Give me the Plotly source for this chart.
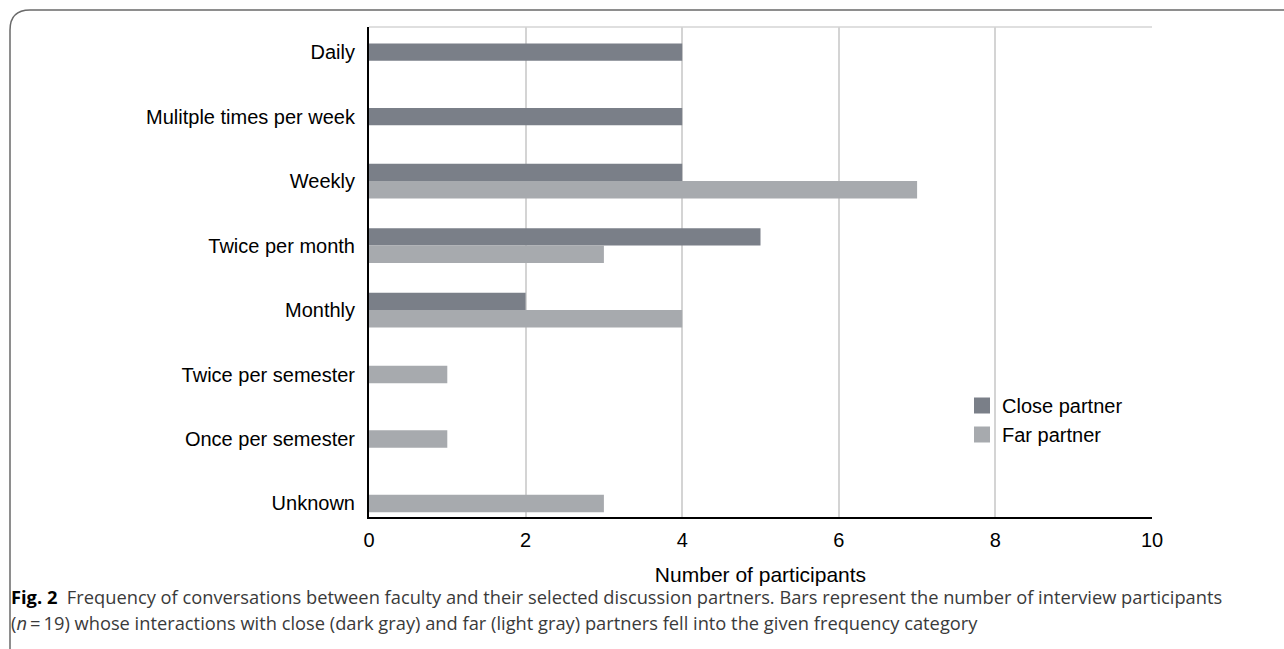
import plotly.graph_objects as go

categories = ["Daily", "Mulitple times per week", "Weekly", "Twice per month",
              "Monthly", "Twice per semester", "Once per semester", "Unknown"]
close_vals = [4, 4, 4, 5, 2, 0, 0, 0]
far_vals = [0, 0, 7, 3, 4, 1, 1, 3]
x_ticks = [0, 2, 4, 6, 8, 10]
series_names = ["Close partner", "Far partner"]

CLOSE_COLOR = "#7a7f88"
FAR_COLOR = "#a7aaae"
W, H = 1284, 649
L, R, T, B = 369, 1152, 27, 517  # plot area in pixels

def px(x):
    return (x - L) / (R - L)

def py(y):
    return (B - y) / (B - T)

bw = 0.27
close_off = [-bw if f > 0 else -bw / 2 for f in far_vals]
far_off = [0 if c > 0 else -bw / 2 for c in close_vals]

fig = go.Figure()
fig.add_trace(go.Bar(y=categories, x=close_vals, orientation="h", name=series_names[0],
                     marker=dict(color=CLOSE_COLOR, line=dict(width=0)),
                     width=bw, offset=close_off, showlegend=False))
fig.add_trace(go.Bar(y=categories, x=far_vals, orientation="h", name=series_names[1],
                     marker=dict(color=FAR_COLOR, line=dict(width=0)),
                     width=bw, offset=far_off, showlegend=False))
# legend entries with larger square swatches
for nm, col in zip(series_names, [CLOSE_COLOR, FAR_COLOR]):
    fig.add_trace(go.Scatter(x=[None], y=[None], mode="markers", name=nm,
                             marker=dict(symbol="square", size=18, color=col)))

font_main = "Liberation Sans, Arial, sans-serif"

fig.update_layout(
    width=W, height=H,
    margin=dict(l=L, r=W - R, t=T, b=H - B, pad=0),
    paper_bgcolor="white", plot_bgcolor="white",
    barmode="overlay",
    font=dict(family=font_main, size=20, color="black"),
    showlegend=True,
    legend=dict(x=px(962), y=py(386), xanchor="left", yanchor="top",
                font=dict(size=20, family=font_main, color="black"),
                bgcolor="rgba(0,0,0,0)", tracegroupgap=0, itemwidth=30),
    xaxis=dict(range=[0, 10], tickvals=x_ticks, showgrid=True, gridcolor="#d4d4d4",
               gridwidth=1.5, zeroline=False, showline=True, linecolor="black", linewidth=2,
               ticks="", tickfont=dict(size=20), ticklabelstandoff=4,
               title=dict(text="Number of participants", font=dict(size=21), standoff=17)),
    yaxis=dict(type="category", categoryorder="array", categoryarray=categories,
               range=[7.21, -0.39], showgrid=False, zeroline=False, showline=True,
               linecolor="black", linewidth=2, ticks="", tickfont=dict(size=20),
               ticklabelstandoff=8),
)

# light gray frame line on top of plot area
fig.add_shape(type="line", xref="paper", yref="paper", x0=0, x1=1, y0=1, y1=1,
              line=dict(color="#d4d4d4", width=1.5), layer="below")

# outer figure frame with rounded top-left corner
x0, y0r, yt, xr, r = 10, 660, 10, 1300, 20
path = (f"M {px(x0)} {py(y0r)} L {px(x0)} {py(yt + r)} "
        f"Q {px(x0)} {py(yt)} {px(x0 + r)} {py(yt)} L {px(xr)} {py(yt)}")
fig.add_shape(type="path", xref="paper", yref="paper", path=path,
              line=dict(color="#6a6a6a", width=1.5))

cap_font = "Open Sans, Noto Sans, sans-serif"
fig.add_annotation(xref="paper", yref="paper", x=px(9), y=py(596), xanchor="left",
                   yanchor="middle", showarrow=False, align="left",
                   text="<b>Fig. 2</b>  <span style='color:#3a3a3a'>Frequency of conversations between faculty and their selected discussion partners. Bars represent the number of interview participants</span>",
                   font=dict(family=cap_font, size=18.3, color="black"))
fig.add_annotation(xref="paper", yref="paper", x=px(9), y=py(622), xanchor="left",
                   yanchor="middle", showarrow=False, align="left",
                   text="(<i>n</i>\u2009=\u200919) whose interactions with close (dark gray) and far (light gray) partners fell into the given frequency category",
                   font=dict(family=cap_font, size=18.3, color="#3a3a3a"))

fig.write_html("out.html", config={"displayModeBar": False},
               post_script="document.body.style.margin='0';document.body.style.overflow='hidden';")
